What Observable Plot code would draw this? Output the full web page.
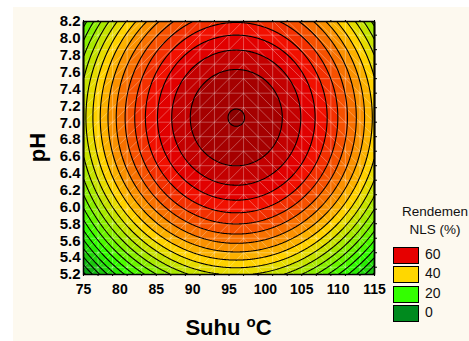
<!DOCTYPE html>
<html><head><meta charset="utf-8">
<script src="https://cdn.jsdelivr.net/npm/d3@7"></script>
<script src="https://cdn.jsdelivr.net/npm/@observablehq/plot@0.6"></script>
<style>
html,body{margin:0;padding:0;background:#fff;}
#wrap{position:relative;width:469px;height:341px;overflow:hidden;font-family:"Liberation Sans",Arial,sans-serif;}
#bg{position:absolute;left:13px;top:7px;right:0;bottom:0;background:#fdf9ef;}
#chart{position:absolute;left:0;top:0;}
#legend{position:absolute;left:380px;top:204px;width:110px;color:#111;}
.lt{position:absolute;font-size:13.5px;white-space:nowrap;text-align:center;width:80px;left:15px;}
.sw{position:absolute;left:13px;width:24px;height:15px;border:1px solid #000;}
.sl{position:absolute;left:45px;font-size:14px;line-height:17px;}
</style></head><body>
<div id="wrap"><div id="bg"></div><div id="chart"></div><div id="legend"></div></div>
<script>
// ---- data ----
const xTicks = [75, 80, 85, 90, 95, 100, 105, 110, 115];
const yTicks = [5.2, 5.4, 5.6, 5.8, 6.0, 6.2, 6.4, 6.6, 6.8, 7.0, 7.2, 7.4, 7.6, 7.8, 8.0, 8.2];
const levels = [0, 3, 6, 9, 12, 15, 18, 21, 24, 27, 30, 33, 36, 39, 42, 45, 48, 51, 54, 57, 60, 63, 66, 69];
// fitted response surface (peak location, peak value, curvature in x and y)
const peakXY = [96.0, 7.06];
const peakValue = 69.1;
const curvature = [0.0775, 9.5];
const legendValues = [60, 40, 20, 0];
const legendColors = ["#e60000", "#ffd700", "#33ff00", "#008a1e"];
const rampValues = [0, 20, 40, 60, 70];
const rampColors = ["#008a1e", "#33ff00", "#ffd700", "#f00000", "#8c0000"];

const step = levels[1] - levels[0];
const rendemen = (x, y) => peakValue - curvature[0] * (x - peakXY[0]) ** 2 - curvature[1] * (y - peakXY[1]) ** 2;

// decorative mesh
const gx = d3.range(75, 115.001, 2);
const gy = d3.range(5.114, 8.4, 0.172);
const cells = [];
for (let i = 0; i < gx.length - 1; i++) for (let j = 0; j < gy.length - 1; j++) {
  const left = gx[i] < peakXY[0];
  cells.push({x1: gx[i], x2: gx[i + 1], y1: left ? gy[j] : gy[j + 1], y2: left ? gy[j + 1] : gy[j]});
}
const mesh = {stroke: "white", strokeOpacity: 0.3, strokeWidth: 1, clip: true};

const plot = Plot.plot({
  width: 469, height: 341,
  marginLeft: 83, marginRight: 95, marginTop: 21, marginBottom: 67,
  style: {background: "transparent", fontFamily: "'Liberation Sans', Arial, sans-serif", fontWeight: "bold", fontSize: "15px", color: "black"},
  x: {domain: [75, 115]},
  y: {domain: [5.2, 8.2]},
  color: {type: "linear", domain: rampValues.map(v => v - step / 2), range: rampColors, interpolate: "rgb", clamp: true},
  marks: [
    Plot.contour({fill: rendemen, x1: 75, x2: 115, y1: 5.2, y2: 8.2, thresholds: levels, stroke: "none", pixelSize: 1}),
    Plot.ruleX(gx.slice(1, -1), mesh),
    Plot.ruleY(gy, mesh),
    Plot.link(cells, {x1: "x1", y1: "y1", x2: "x2", y2: "y2", ...mesh}),
    Plot.contour({value: rendemen, x1: 75, x2: 115, y1: 5.2, y2: 8.2, thresholds: levels.slice(1), stroke: "black", fill: "none", strokeWidth: 1.1, pixelSize: 1}),
    Plot.frame({stroke: "black", strokeWidth: 1.5}),
    Plot.axisY({ticks: yTicks, tickFormat: d => d.toFixed(1), tickSize: 0, tickPadding: 3, label: null, fontSize: 15}),
    Plot.axisY({anchor: "right", ticks: gy.filter(v => v > 5.2 && v < 8.2), tickSize: 2, tickFormat: () => "", label: null}),
    Plot.axisX({ticks: xTicks, tickSize: 0, tickPadding: 10, label: null, fontSize: 14}),
    Plot.axisX({ticks: gx, tickSize: 2, tickFormat: () => "", label: null}),
    Plot.axisX({anchor: "top", ticks: gx, tickSize: 2, tickFormat: () => "", label: null})
  ]
});
document.getElementById("chart").appendChild(plot);

const svg = d3.select(plot);
svg.append("text")
  .attr("transform", "translate(45,147.5) rotate(-90)")
  .attr("text-anchor", "middle")
  .attr("font-size", 22).attr("font-weight", "bold").attr("fill", "black")
  .text("pH");
const t = svg.append("text")
  .attr("x", 228.5).attr("y", 335)
  .attr("text-anchor", "middle")
  .attr("font-size", 22).attr("font-weight", "bold").attr("fill", "black");
t.append("tspan").text("Suhu ");
t.append("tspan").attr("font-size", 15).attr("dy", -8).text("o");
t.append("tspan").attr("dy", 8).text("C");

// legend
const lg = d3.select("#legend");
lg.append("div").attr("class", "lt").style("top", "0px").text("Rendemen");
lg.append("div").attr("class", "lt").style("top", "18px").text("NLS (%)");
legendValues.forEach((v, i) => {
  lg.append("div").attr("class", "sw").style("top", (43 + i * 19.3) + "px").style("background", legendColors[i]);
  lg.append("div").attr("class", "sl").style("top", (42 + i * 19.3) + "px").text(v);
});
</script>
</body></html>
